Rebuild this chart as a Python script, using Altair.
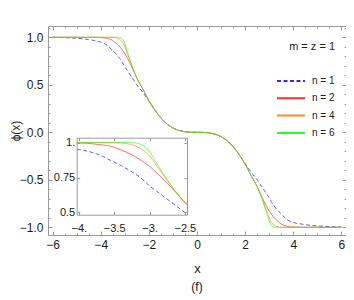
import altair as alt
import pandas as pd

FONT = "Liberation Sans"
TXT = "#1a1a1a"
FRAME = "#9a9a9a"

# ---------------- data ----------------
n_labels = ["n = 1", "n = 2", "n = 4", "n = 6"]
line_colors = ["#2a2aff", "#ff2a2a", "#ff8c1a", "#2aff2a"]
line_dashes = [[4, 2.5], [1, 0], [1, 0], [1, 0]]

x_grid = [-6, -5.5, -5, -4.75, -4.5, -4.25, -4, -3.75, -3.5, -3.4, -3.3, -3.2,
          -3.1, -3, -2.9, -2.75, -2.6, -2.5, -2.25, -2, -1.75, -1.5, -1.25, -1,
          -0.75, -0.5, -0.25, 0,
          0.25, 0.5, 0.75, 1, 1.25, 1.5, 1.75, 2, 2.25, 2.5, 2.6, 2.75, 2.9, 3,
          3.1, 3.2, 3.3, 3.4, 3.5, 3.75, 4, 4.25, 4.5, 4.75, 5, 5.5, 6]

phi_n1 = [0.999, 0.996, 0.99, 0.984, 0.976, 0.965, 0.95, 0.92, 0.86, 0.835, 0.806, 0.775,
          0.737, 0.69, 0.652, 0.595, 0.538, 0.50, 0.42, 0.328, 0.233, 0.152, 0.088, 0.046,
          0.02, 0.006, 0.001, 0.0,
          -0.001, -0.006, -0.02, -0.046, -0.088, -0.152, -0.233, -0.328, -0.42, -0.50, -0.538,
          -0.595, -0.652, -0.69, -0.737, -0.775, -0.806, -0.835, -0.86, -0.92, -0.95, -0.962,
          -0.972, -0.98, -0.985, -0.993, -0.998]

phi_n2 = [1.0, 1.0, 1.0, 0.999, 0.999, 0.999, 0.997, 0.988, 0.966, 0.946, 0.925, 0.898,
          0.866, 0.83, 0.784, 0.71, 0.628, 0.57, 0.456, 0.336, 0.235, 0.152, 0.088, 0.046,
          0.02, 0.006, 0.001, 0.0,
          -0.001, -0.006, -0.02, -0.046, -0.088, -0.152, -0.235, -0.336, -0.456, -0.57, -0.628,
          -0.71, -0.784, -0.83, -0.866, -0.898, -0.925, -0.946, -0.966, -0.988, -0.996, -0.999,
          -1.0, -1.0, -1.0, -1.0, -1.0]

phi_n4 = [1.0, 1.0, 1.0, 1.0, 1.0, 1.0, 1.0, 1.0, 1.0, 0.998, 0.99, 0.975,
          0.95, 0.905, 0.835, 0.73, 0.63, 0.572, 0.456, 0.336, 0.235, 0.152, 0.088, 0.046,
          0.02, 0.006, 0.001, 0.0,
          -0.001, -0.006, -0.02, -0.046, -0.088, -0.152, -0.235, -0.336, -0.456, -0.572, -0.63,
          -0.73, -0.835, -0.905, -0.95, -0.975, -0.99, -0.998, -1.0, -1.0, -1.0, -1.0,
          -1.0, -1.0, -1.0, -1.0, -1.0]

phi_n6 = [1.0, 1.0, 1.0, 1.0, 1.0, 1.0, 1.0, 1.0, 1.0, 1.0, 1.0, 0.997,
          0.982, 0.935, 0.853, 0.735, 0.632, 0.574, 0.456, 0.336, 0.235, 0.152, 0.088, 0.046,
          0.02, 0.006, 0.001, 0.0,
          -0.001, -0.006, -0.02, -0.046, -0.088, -0.152, -0.235, -0.336, -0.456, -0.574, -0.632,
          -0.735, -0.853, -0.935, -0.982, -0.997, -1.0, -1.0, -1.0, -1.0, -1.0, -1.0,
          -1.0, -1.0, -1.0, -1.0, -1.0]

# values where the inset frame cuts the curves
inset_left_x = -4.03
inset_left_phi = [0.952, 0.997, 1.0, 1.0]
inset_right_x = -2.47
inset_right_phi = [0.49, 0.556, 0.56, 0.562]

# axes
main_x_domain = [-6.19, 6.19]
main_y_domain = [-1.081, 1.119]
x_major = [-6, -4, -2, 0, 2, 4, 6]
x_minor = [-5.5, -5, -4.5, -3.5, -3, -2.5, -1.5, -1, -0.5, 0.5, 1, 1.5, 2.5, 3, 3.5,
           4.5, 5, 5.5]
y_major = [-1, -0.5, 0, 0.5, 1]
y_minor = [-0.9, -0.8, -0.7, -0.6, -0.4, -0.3, -0.2, -0.1, 0.1, 0.2, 0.3, 0.4,
           0.6, 0.7, 0.8, 0.9, 1.1]

inset_x_domain = [-4.03, -2.47]
inset_y_domain = [0.484, 1.035]
inset_x_ticks = [-4, -3.5, -3, -2.5]
inset_y_ticks = [0.5, 0.75, 1.0]

# ---------------- tables ----------------
series = [phi_n1, phi_n2, phi_n4, phi_n6]
rows = []
for k, (lab, ys) in enumerate(zip(n_labels, series)):
    for xv, yv in zip(x_grid, ys):
        rows.append({"x": xv, "phi": yv, "n": lab, "k": k})
df = pd.DataFrame(rows)

irows = []
for k, lab in enumerate(n_labels):
    irows.append({"x": inset_left_x, "phi": inset_left_phi[k], "n": lab, "k": k})
    for xv, yv in zip(x_grid, series[k]):
        if inset_x_ticks[0] <= xv <= inset_x_ticks[-1]:
            irows.append({"x": xv, "phi": yv, "n": lab, "k": k})
    irows.append({"x": inset_right_x, "phi": inset_right_phi[k], "n": lab, "k": k})
idf = pd.DataFrame(irows)

box = pd.DataFrame([{"x0": inset_x_domain[0], "x1": inset_x_domain[1],
                     "y0": inset_y_domain[0], "y1": inset_y_domain[1]}])

W, H = 298, 209
INSET_X_RANGE = [28.7, 139]
INSET_Y_RANGE = [188.7, 111.7]

def mscale(dom):
    return alt.Scale(domain=dom, nice=False, zero=False)

def iscale(dom, rng):
    return alt.Scale(domain=dom, range=rng, nice=False, zero=False)

common_axis = dict(grid=False, domainColor=FRAME, tickColor=FRAME, domainWidth=1,
                   tickWidth=1, labelFont=FONT, labelColor=TXT, zindex=1,
                   titleFont=FONT, titleColor=TXT, titleFontWeight="normal")

def axis(orient, values, size, labels=False, domain=True, **kw):
    d = dict(common_axis)
    d.update(dict(orient=orient, values=values, tickSize={"expr": str(-size)},
                  labels=labels, domain=domain, title=None))
    d.update(kw)
    return alt.Axis(**d)

legend = alt.Legend(
    title="m = z = 1", orient="none", legendX=235, legendY=15,
    titleAnchor="end", titleFont=FONT, titleFontSize=11, titleFontWeight="normal",
    titleColor=TXT, titlePadding=21,
    labelFont=FONT, labelFontSize=10, labelColor=TXT, labelOffset=13,
    symbolType="M-2,0H2", symbolSize=196, symbolStrokeWidth=2, symbolOpacity=1,
    rowPadding=4.3,
)

color_enc = alt.Color("n:N", scale=alt.Scale(domain=n_labels, range=line_colors), legend=legend)
dash_enc = alt.StrokeDash("n:N", scale=alt.Scale(domain=n_labels, range=line_dashes), legend=legend)

# main curves with labelled bottom/left frame
main_lines = alt.Chart(df).mark_line(strokeWidth=1, opacity=0.75, interpolate="monotone").encode(
    x=alt.X("x:Q", scale=mscale(main_x_domain),
            axis=axis("bottom", x_major, 4, labels=True, labelFontSize=12, labelPadding=8,
                      format="~g", title="x", titleFontSize=13, titlePadding=12)),
    y=alt.Y("phi:Q", scale=mscale(main_y_domain),
            axis=axis("left", y_major, 4, labels=True, labelFontSize=12, labelPadding=9,
                      format=".1f", title="ϕ(x)", titleFontSize=12,
                      titleX=-26, titleY=H / 2, titleAngle=270,
                      titleAlign="center", titleBaseline="bottom")),
    color=color_enc,
    strokeDash=dash_enc,
    order="k:Q",
)

def ghost(data, xenc, yenc):
    return alt.Chart(data).mark_line(opacity=0).encode(x=xenc, y=yenc)

main_top_right = ghost(
    df,
    alt.X("x:Q", scale=mscale(main_x_domain), axis=axis("top", x_major, 4)),
    alt.Y("phi:Q", scale=mscale(main_y_domain), axis=axis("right", y_major, 4)),
)
main_minor_bl = ghost(
    df,
    alt.X("x:Q", scale=mscale(main_x_domain), axis=axis("bottom", x_minor, 2, domain=False)),
    alt.Y("phi:Q", scale=mscale(main_y_domain), axis=axis("left", y_minor, 2, domain=False)),
)
main_minor_tr = ghost(
    df,
    alt.X("x:Q", scale=mscale(main_x_domain), axis=axis("top", x_minor, 2, domain=False)),
    alt.Y("phi:Q", scale=mscale(main_y_domain), axis=axis("right", y_minor, 2, domain=False)),
)

# inset
inset_bg = alt.Chart(box).mark_rect(fill="white", stroke=None).encode(
    x=alt.X("x0:Q", scale=iscale(inset_x_domain, INSET_X_RANGE), axis=None),
    x2="x1:Q",
    y=alt.Y("y0:Q", scale=iscale(inset_y_domain, INSET_Y_RANGE), axis=None),
    y2="y1:Q",
)

inset_lines = alt.Chart(idf).mark_line(strokeWidth=1, opacity=0.75, interpolate="monotone").encode(
    x=alt.X("x:Q", scale=iscale(inset_x_domain, INSET_X_RANGE),
            axis=axis("bottom", inset_x_ticks, 3, labels=True, labelFontSize=11,
                      labelPadding=11, offset=INSET_Y_RANGE[0] - H,
                      labelExpr="replace(format(datum.value, '.1f'), '.0', '.')")),
    y=alt.Y("phi:Q", scale=iscale(inset_y_domain, INSET_Y_RANGE),
            axis=axis("left", inset_y_ticks, 3, labels=True, labelFontSize=11,
                      labelPadding=5, offset=-INSET_X_RANGE[0],
                      labelExpr="datum.value == 1 ? '1.' : format(datum.value, '~g')")),
    color=alt.Color("n:N", scale=alt.Scale(domain=n_labels, range=line_colors), legend=None),
    strokeDash=alt.StrokeDash("n:N", scale=alt.Scale(domain=n_labels, range=line_dashes), legend=None),
    order="k:Q",
)

inset_top_right = ghost(
    idf,
    alt.X("x:Q", scale=iscale(inset_x_domain, INSET_X_RANGE),
          axis=axis("top", inset_x_ticks, 3, offset=-INSET_Y_RANGE[1])),
    alt.Y("phi:Q", scale=iscale(inset_y_domain, INSET_Y_RANGE),
          axis=axis("right", inset_y_ticks, 3, offset=INSET_X_RANGE[1] - W)),
)

chart = alt.layer(
    main_lines, main_top_right, main_minor_bl, main_minor_tr,
    inset_bg, inset_lines, inset_top_right,
).resolve_scale(
    x="independent", y="independent"
).resolve_axis(
    x="independent", y="independent"
).properties(
    width=W, height=H,
    autosize=alt.AutoSizeParams(type="none"),
    padding={"left": 40, "top": 18, "right": 0, "bottom": 60},
    title=alt.Title("(f)", orient="bottom", font=FONT, fontSize=12, fontWeight="normal",
                    color=TXT, offset=7),
).configure_view(stroke=None).configure(background="white")

chart.save("out.html", embed_options={"renderer": "svg", "actions": False})
